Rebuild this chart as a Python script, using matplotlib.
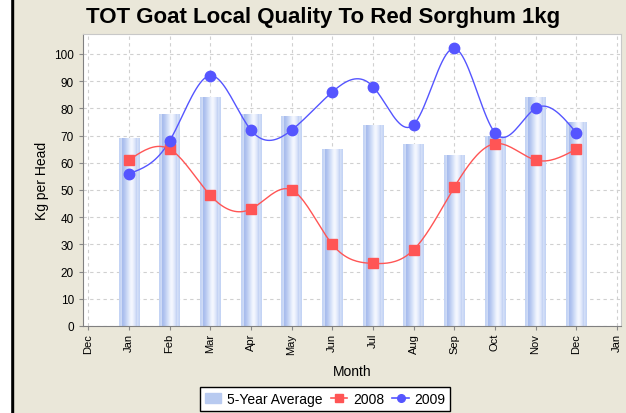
import numpy as np
import matplotlib
matplotlib.use('Agg')
import matplotlib.pyplot as plt
from matplotlib.patches import Rectangle
from matplotlib.lines import Line2D

plt.rcParams['font.family'] = ['Liberation Sans', 'DejaVu Sans']

# data
months = ['Jan', 'Feb', 'Mar', 'Apr', 'May', 'Jun', 'Jul', 'Aug', 'Sep', 'Oct', 'Nov', 'Dec']
tick_labels = ['Dec'] + months + ['Jan']
avg_5yr = [69, 78, 84, 78, 77, 65, 74, 67, 63, 70, 84, 75]
y2008 = [61, 65, 48, 43, 50, 30, 23, 28, 51, 67, 61, 65]
y2009 = [56, 68, 92, 72, 72, 86, 88, 74, 102, 71, 80, 71]

BG = '#EAE7D9'
RED = '#FF5555'
BLUE = '#5555FF'


def natural_spline(x, y, n=20):
    # natural cubic spline, only used to draw the smooth line
    x = np.asarray(x, float)
    y = np.asarray(y, float)
    k = len(x)
    h = np.diff(x)
    A = np.zeros((k, k))
    r = np.zeros(k)
    A[0, 0] = A[-1, -1] = 1
    for i in range(1, k - 1):
        A[i, i - 1] = h[i - 1]
        A[i, i] = 2 * (h[i - 1] + h[i])
        A[i, i + 1] = h[i]
        r[i] = 3 * ((y[i + 1] - y[i]) / h[i] - (y[i] - y[i - 1]) / h[i - 1])
    c = np.linalg.solve(A, r)
    xs, ys = [], []
    for i in range(k - 1):
        b = (y[i + 1] - y[i]) / h[i] - h[i] * (2 * c[i] + c[i + 1]) / 3
        d = (c[i + 1] - c[i]) / (3 * h[i])
        t = np.linspace(0, h[i], n, endpoint=(i == k - 2))
        xs.append(x[i] + t)
        ys.append(y[i] + b * t + c[i] * t ** 2 + d * t ** 3)
    return np.concatenate(xs), np.concatenate(ys)


fig = plt.figure(figsize=(6.26, 4.14), dpi=100, facecolor=BG)
fig.patches.append(Rectangle((10 / 626, 0), 3 / 626, 1, transform=fig.transFigure,
                             color='black', zorder=5))
fig.patches.append(Rectangle((0, 0), 10 / 626, 1, transform=fig.transFigure,
                             color='white', zorder=5))
ax = fig.add_axes([83 / 626, 87 / 414, 538 / 626, 292 / 414])
ax.set_facecolor('white')

x = np.arange(1, 13)

# bars with a horizontal gradient
profile = np.array([
    [196, 212, 245], [196, 212, 245], [236, 241, 252], [162, 184, 236],
    [184, 201, 241], [212, 224, 248], [240, 244, 254], [246, 248, 255],
    [222, 231, 250], [190, 206, 243], [236, 241, 252], [196, 212, 245],
]) / 255.0
pos = np.array([0, 0.08, 0.11, 0.14, 0.28, 0.42, 0.55, 0.62, 0.75, 0.87, 0.90, 0.93])
grid_x = np.linspace(0, 1, 64)
grad = np.stack([np.interp(grid_x, pos, profile[:, j]) for j in range(3)], axis=-1)[None, :, :]

bw = 0.5
bars = ax.bar(x, avg_5yr, width=bw, color='none', edgecolor='none', zorder=2)
for b in bars:
    im = ax.imshow(grad, extent=[b.get_x(), b.get_x() + b.get_width(), 0, b.get_height()],
                   aspect='auto', interpolation='bilinear', zorder=2)
    im.set_clip_path(b)

xs, ys = natural_spline(x, y2008)
ax.plot(xs, ys, color=RED, lw=1.0, zorder=3)
ax.plot(x, y2008, ls='none', marker='s', ms=7.5, color=RED, mec=RED, zorder=4)
xs, ys = natural_spline(x, y2009)
ax.plot(xs, ys, color=BLUE, lw=1.0, zorder=3)
ax.plot(x, y2009, ls='none', marker='o', ms=7.5, color=BLUE, mec=BLUE, zorder=4)

ax.set_xlim(-0.13, 13.1)
ax.set_ylim(0, 107.3)
ax.set_xticks(range(14))
ax.set_xticklabels(tick_labels, rotation=90, fontsize=8)
ax.set_yticks(range(0, 101, 10))
ax.tick_params(axis='y', labelsize=8.5, length=3, color='#888888')
ax.tick_params(axis='x', length=3, color='#888888', pad=2)
ax.grid(True, ls=(0, (3, 3)), color='#D0D0D0', lw=0.8, zorder=0)
ax.set_axisbelow(True)
for s in ax.spines.values():
    s.set_color('#C8C8C8')
ax.spines['left'].set_color('#808080')
ax.spines['bottom'].set_color('#808080')

ax.set_ylabel('Kg per Head', fontsize=10, labelpad=4)
ax.set_xlabel('Month', fontsize=10, labelpad=7)
fig.text(323 / 626, 1 - 18 / 414, 'TOT Goat Local Quality To Red Sorghum 1kg',
         ha='center', va='center', fontsize=16, fontweight='bold')

handles = [
    Rectangle((0, 0), 1, 1, color='#B8CAF0'),
    Line2D([], [], color=RED, marker='s', ms=5.5, lw=1.2),
    Line2D([], [], color=BLUE, marker='o', ms=5.5, lw=1.2),
]
leg = fig.legend(handles, ['5-Year Average', '2008', '2009'], loc='center',
                 bbox_to_anchor=(325 / 626, 1 - 400 / 414), ncol=3, fontsize=10,
                 frameon=True, fancybox=False, edgecolor='black', facecolor='white',
                 framealpha=1, handlelength=1.2, handletextpad=0.4, columnspacing=0.6,
                 borderpad=0.35)
leg.get_frame().set_linewidth(1.0)

fig.savefig('out.png', dpi=100, facecolor=BG)
